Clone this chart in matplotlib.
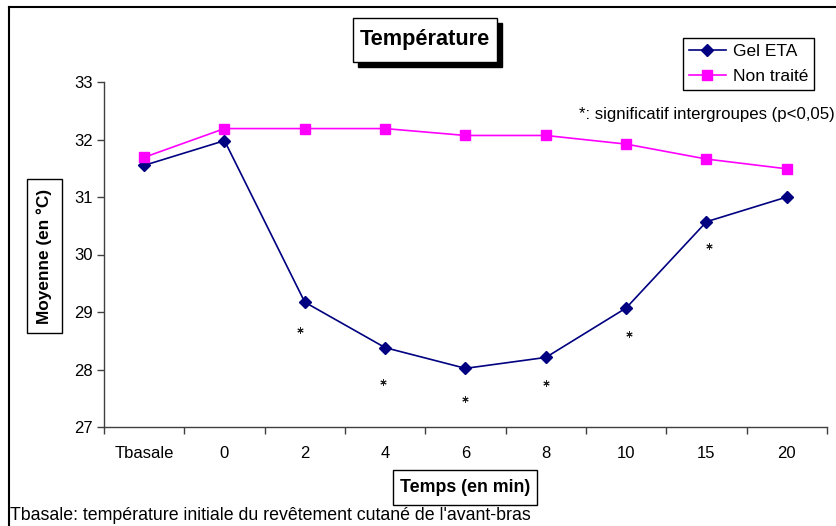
import matplotlib
matplotlib.use("Agg")
import matplotlib.pyplot as plt
from matplotlib.patches import Rectangle
from matplotlib.lines import Line2D

plt.rcParams['font.family'] = ['Liberation Sans', 'DejaVu Sans']

# ------------------------------
# Data
# ------------------------------
categories = ['Tbasale', '0', '2', '4', '6', '8', '10', '15', '20']
gel_eta = [31.55, 31.98, 29.17, 28.38, 28.02, 28.21, 29.07, 30.57, 31.0]
non_traite = [31.69, 32.19, 32.19, 32.19, 32.07, 32.07, 31.92, 31.66, 31.49]
# significance stars (category position, y value)
star_x = [1.94, 2.97, 3.99, 5.0, 6.04, 7.03]
star_y = [28.69, 27.78, 27.49, 27.77, 28.62, 30.14]

W, H = 837, 526
fig = plt.figure(figsize=(W / 100, H / 100), dpi=100)

def fx(px):
    return px / W

def fy(py):
    return 1 - py / H

# outer frame (top and left edges only are visible)
fig.lines.append(Line2D([fx(9), fx(835)], [fy(7), fy(7)], transform=fig.transFigure,
                        color='black', linewidth=1.5))
fig.lines.append(Line2D([fx(9), fx(9)], [fy(7), fy(530)], transform=fig.transFigure,
                        color='black', linewidth=1.5))

ax = fig.add_axes([fx(104), fy(427), fx(827) - fx(104), fy(82) - fy(427)])
x = list(range(len(categories)))

ax.plot(x, gel_eta, color='#000080', marker='D', markersize=6, linewidth=1.2,
        label='Gel ETA')
ax.plot(x, non_traite, color='#FF00FF', marker='s', markersize=7.5, linewidth=1.2,
        label='Non traité')
ax.plot(star_x, star_y, linestyle='none', marker=(6, 2, 0), markersize=4.5,
        color='#202020', markeredgewidth=0.7)

ax.set_xlim(-0.5, len(categories) - 0.5)
ax.set_ylim(27, 33)
ax.set_yticks([27, 28, 29, 30, 31, 32, 33])
ax.set_xticks(x)
ax.set_xticklabels(categories)
ax.set_xticks([i - 0.5 for i in range(len(categories) + 1)], minor=True)
ax.tick_params(axis='x', which='major', length=0, pad=14, labelsize=12)
ax.tick_params(axis='x', which='minor', length=5, width=1, direction='out', color='#404040')
ax.tick_params(axis='y', length=5, width=1, direction='out', labelsize=12, pad=3, color='#404040')
for s in ['top', 'right']:
    ax.spines[s].set_visible(False)
for s in ['left', 'bottom']:
    ax.spines[s].set_color('#404040')
    ax.spines[s].set_linewidth(1)

# legend
ax.legend(loc='upper right', bbox_to_anchor=(fx(814), fy(38)),
          bbox_transform=fig.transFigure, borderaxespad=0, fancybox=False,
          edgecolor='black', framealpha=1, fontsize=12.5, handlelength=2.1,
          handletextpad=0.4, labelspacing=0.55, borderpad=0.35)
ax.get_legend().get_frame().set_linewidth(1)

# title box with shadow
fig.patches.append(Rectangle((fx(358), fy(67)), fx(144), fy(18) - fy(62),
                             transform=fig.transFigure, facecolor='black',
                             edgecolor='black'))
fig.patches.append(Rectangle((fx(353), fy(62)), fx(144), fy(18) - fy(62),
                             transform=fig.transFigure, facecolor='white',
                             edgecolor='black', linewidth=1))
fig.text(fx(425), fy(40), 'Température', ha='center', va='center',
         fontsize=15.7, fontweight='bold')

# y label box
fig.patches.append(Rectangle((fx(27), fy(333)), fx(35), fy(179) - fy(333),
                             transform=fig.transFigure, facecolor='white',
                             edgecolor='black', linewidth=1))
fig.text(fx(44.5), fy(256), 'Moyenne (en °C)', ha='center', va='center',
         rotation=90, fontsize=12.4, fontweight='bold')

# x label box
fig.patches.append(Rectangle((fx(393), fy(505)), fx(144), fy(470) - fy(505),
                             transform=fig.transFigure, facecolor='white',
                             edgecolor='black', linewidth=1))
fig.text(fx(465), fy(487.5), 'Temps (en min)', ha='center', va='center',
         fontsize=12.8, fontweight='bold')

fig.text(fx(579), fy(115), '*: significatif intergroupes (p<0,05)',
         ha='left', va='center', fontsize=12.1)
fig.text(fx(10), fy(515), "Tbasale: température initiale du revêtement cutané de l'avant-bras",
         ha='left', va='center', fontsize=12.8)

fig.savefig('out.png', dpi=100)
